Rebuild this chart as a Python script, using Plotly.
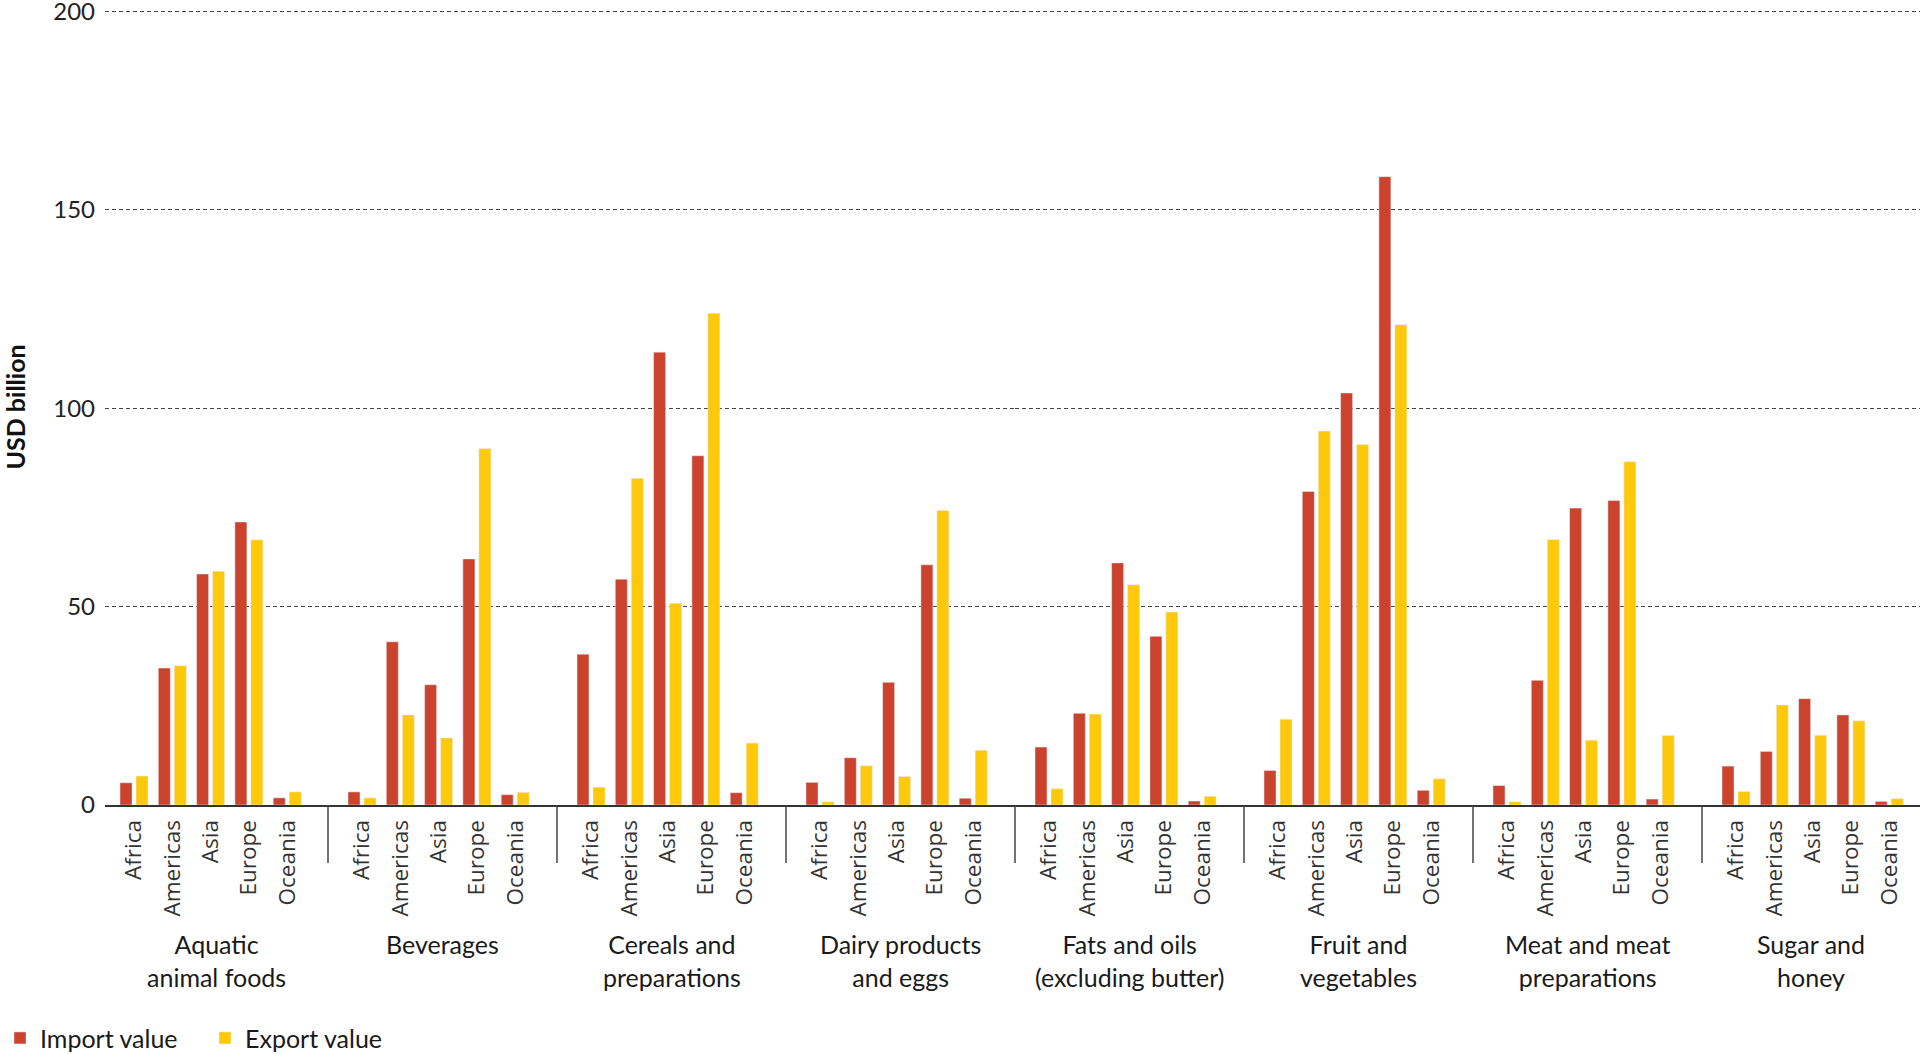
import plotly.graph_objects as go
from plotly.subplots import make_subplots

groups = ["Aquatic<br>animal foods", "Beverages", "Cereals and<br>preparations",
          "Dairy products<br>and eggs", "Fats and oils<br>(excluding butter)",
          "Fruit and<br>vegetables", "Meat and meat<br>preparations", "Sugar and<br>honey"]
regions = ["Africa", "Americas", "Asia", "Europe", "Oceania"]

# USD billion, one row per product group, regions in the order above
import_value = [
    [5.6, 34.5, 58.2, 71.3, 1.8],
    [3.3, 41.1, 30.3, 62.0, 2.6],
    [38.0, 56.9, 114.1, 88.0, 3.1],
    [5.7, 11.9, 30.9, 60.5, 1.7],
    [14.6, 23.1, 61.0, 42.5, 1.0],
    [8.7, 79.0, 103.8, 158.3, 3.7],
    [4.9, 31.4, 74.8, 76.7, 1.5],
    [9.8, 13.5, 26.8, 22.7, 0.9],
]
export_value = [
    [7.3, 35.1, 58.9, 66.8, 3.3],
    [1.8, 22.7, 16.9, 89.8, 3.2],
    [4.5, 82.3, 50.8, 123.9, 15.6],
    [0.8, 9.9, 7.2, 74.2, 13.8],
    [4.1, 22.9, 55.5, 48.6, 2.2],
    [21.6, 94.2, 90.8, 121.0, 6.6],
    [0.8, 66.9, 16.3, 86.5, 17.5],
    [3.4, 25.2, 17.6, 21.2, 1.6],
]

red = "#CB422D"
yellow = "#FFC90B"

fig = make_subplots(rows=1, cols=8, shared_yaxes=True, horizontal_spacing=0)

for g in range(len(groups)):
    fig.add_trace(go.Bar(x=regions, y=import_value[g], name="Import value",
                         marker_color=red, showlegend=(g == 0), legendgroup="imp"),
                  row=1, col=g + 1)
    fig.add_trace(go.Bar(x=regions, y=export_value[g], name="Export value",
                         marker_color=yellow, showlegend=(g == 0), legendgroup="exp"),
                  row=1, col=g + 1)

# pixel layout of the plot area
left, right = 105, 1920
seps = [328, 557, 786, 1015, 1244, 1473, 1702]
edges = [left] + seps + [right]
step = 38.3
pw = right - left


def px(v):
    return (v - left) / pw


for g in range(8):
    a, b = edges[g], edges[g + 1]
    first = 29 if g == 0 else 34
    start = -first / step
    end = start + (b - a) / step
    key = "xaxis" if g == 0 else f"xaxis{g + 1}"
    fig.layout[key].update(
        domain=[px(a), px(b)], range=[start, end], type="category",
        showline=True, linecolor="#333333", linewidth=2, automargin=False,
        showgrid=False, ticks="", tickangle=-90, ticklabelstandoff=4,
        tickfont=dict(family="Open Sans", size=22.5, color="#333333"),
    )
    xr = "x domain" if g == 0 else f"x{g + 1} domain"
    fig.add_annotation(text=groups[g], xref=xr, x=0.5, yref="paper", y=-0.154,
                       yanchor="top", showarrow=False,
                       font=dict(family="Lato", size=25, color="#1a1a1a"))

for s in seps:
    fig.add_shape(type="line", xref="paper", yref="paper", x0=px(s), x1=px(s),
                  y0=0, y1=-0.073, line=dict(color="#444444", width=1.5))

fig.update_yaxes(range=[0, 200.3], tickvals=[0, 50, 100, 150, 200], automargin=False,
                 showgrid=True, gridcolor="#444444", gridwidth=1, griddash="4px,3px",
                 zeroline=False, showline=False, ticks="", ticklabelstandoff=9,
                 ticklabeloverflow="allow",
                 tickfont=dict(family="Lato", size=24, color="#222222"))

fig.add_annotation(text="<b>USD billion</b>", xref="paper", x=px(14), xanchor="center",
                   yref="paper", y=0.5, textangle=-90, showarrow=False,
                   font=dict(family="Lato", size=25, color="#111111"))

fig.update_layout(
    width=1920, height=1054,
    margin=dict(l=left, r=0, t=10, b=249),
    barmode="group", bargap=0.165, bargroupgap=0.25,
    plot_bgcolor="white", paper_bgcolor="white",
    font=dict(family="Lato"),
    legend=dict(orientation="h", xref="paper", yref="container", x=px(-11), y=0.015,
                xanchor="left", yanchor="middle", entrywidth=160,
                font=dict(family="Lato", size=25, color="#1a1a1a")),
)

fig.write_html("out.html", config={"displayModeBar": False},
               post_script="document.body.style.margin='0';")
